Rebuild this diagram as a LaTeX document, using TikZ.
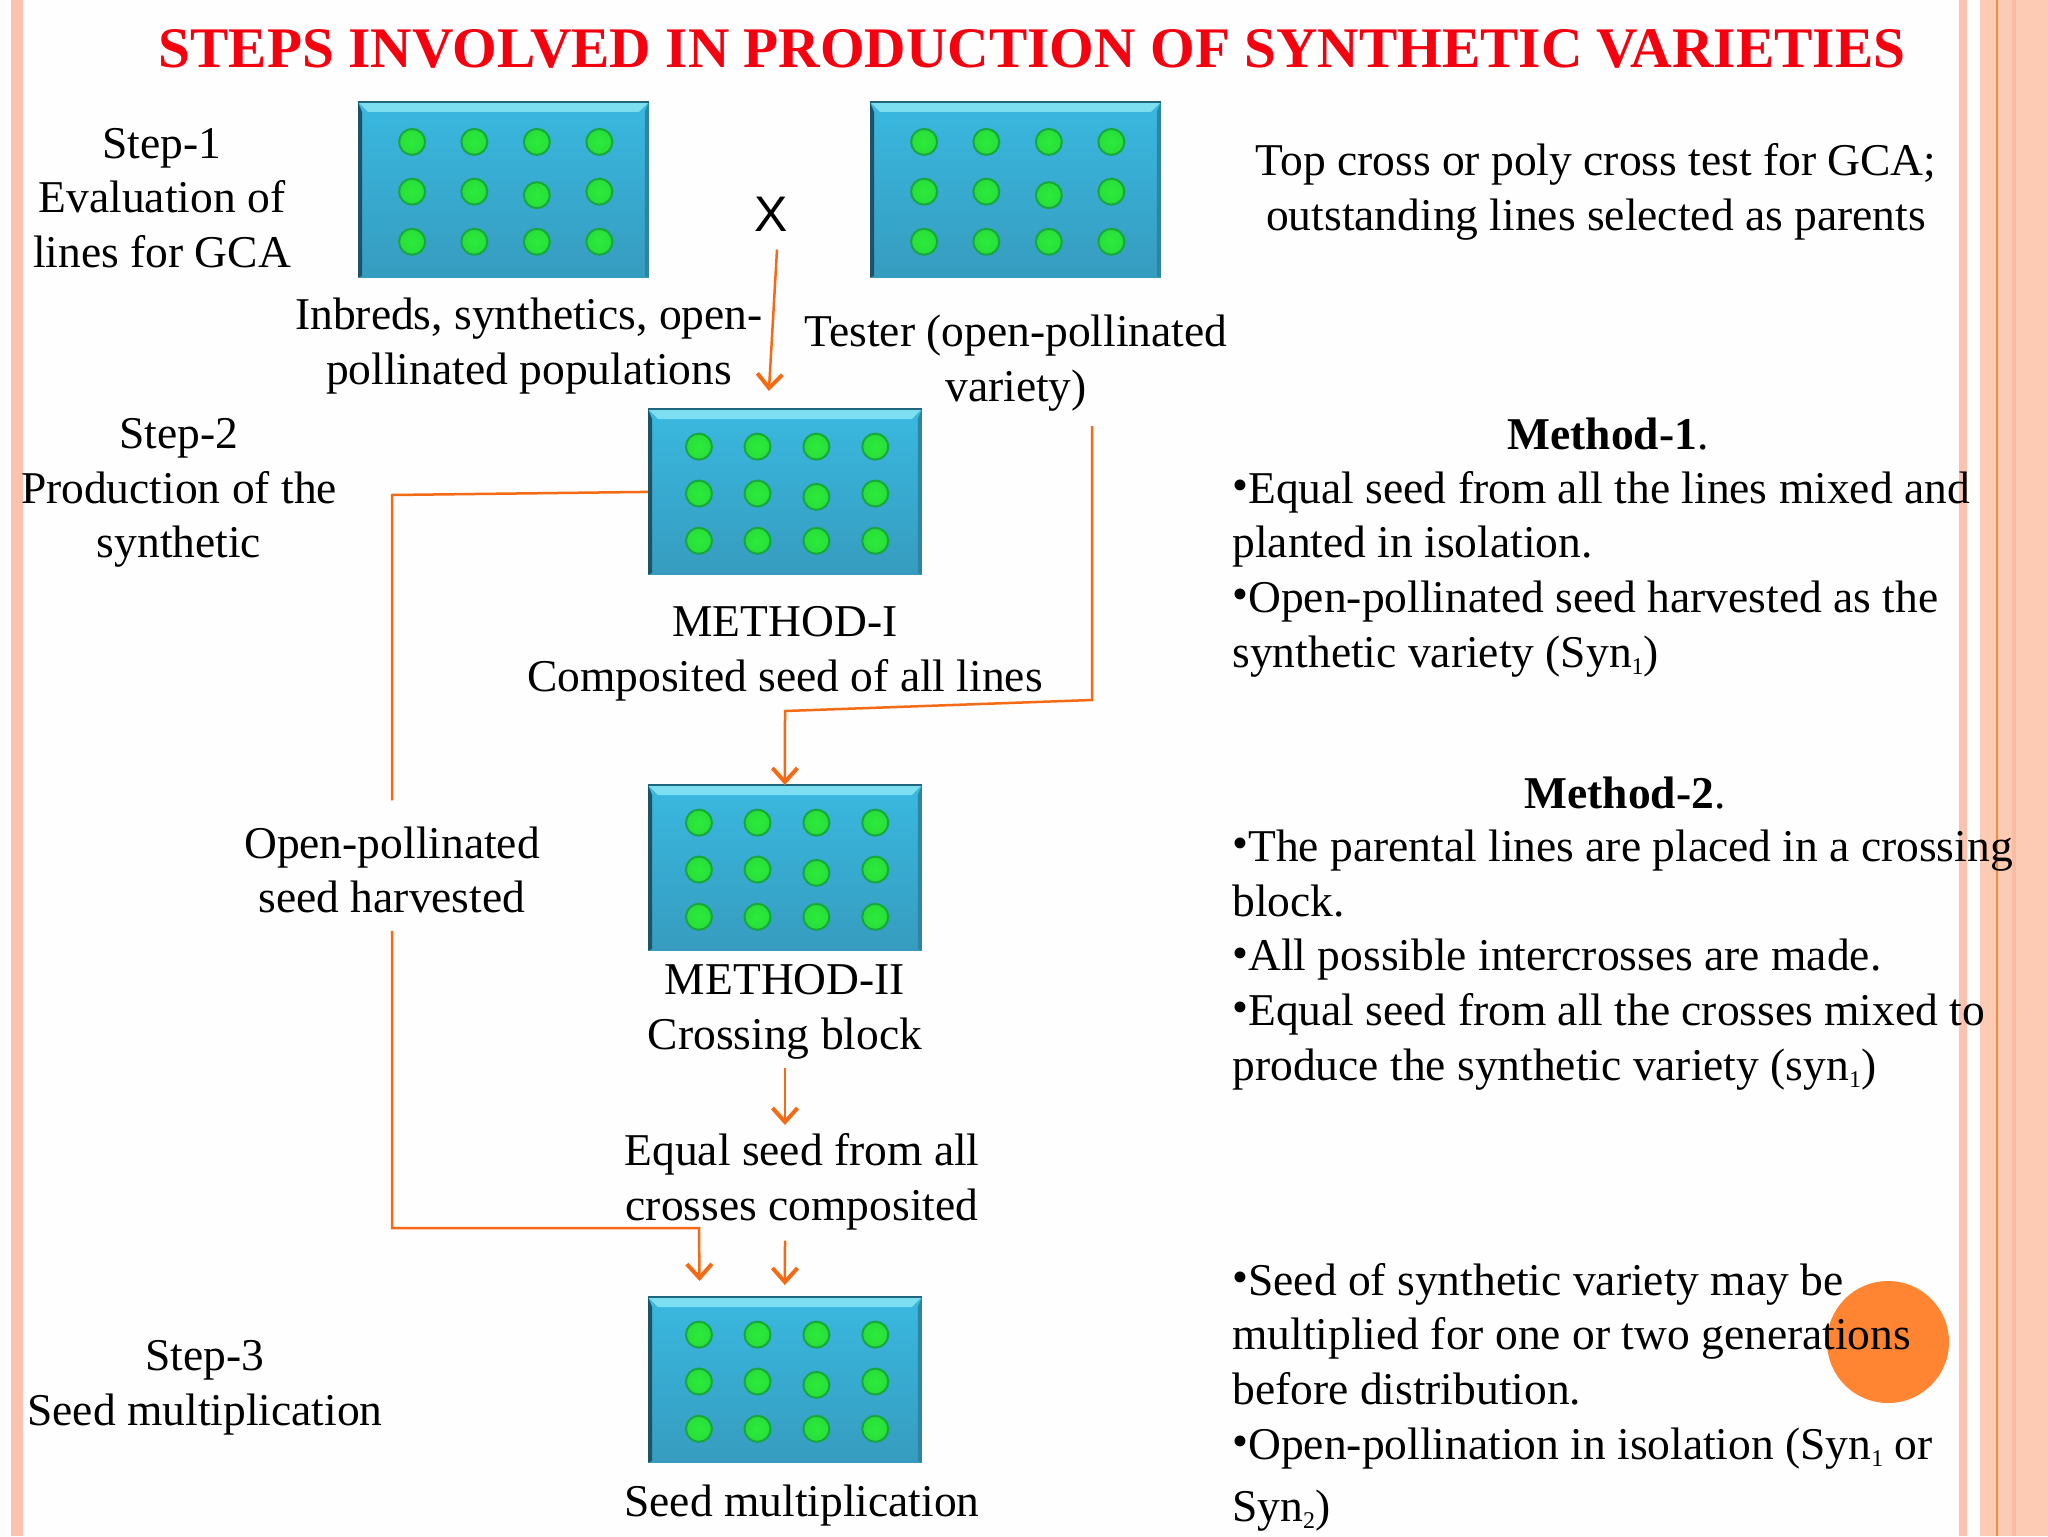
\documentclass[tikz,border=0pt]{standalone}
\usepackage{fontspec}
\setmainfont{Liberation Serif}
\newfontfamily\sansx{Liberation Sans}
\usetikzlibrary{arrows.meta,calc}
\definecolor{pinkband}{HTML}{FDCBB4}
\definecolor{pinkside}{HTML}{FBC3AE}
\definecolor{pinkdark}{HTML}{F9BBA2}
\definecolor{orangeline}{HTML}{F56A14}
\definecolor{orangedeep}{HTML}{F58A3C}
\definecolor{discorange}{HTML}{FF8533}
\definecolor{titlered}{HTML}{F5000F}
\definecolor{tiletop}{HTML}{3AB8E0}
\definecolor{tilebot}{HTML}{369CBF}
\definecolor{ballgreen}{HTML}{2CEB3A}
\definecolor{ballrim}{HTML}{16A83C}
\newcommand{\bul}{\raisebox{1.4pt}{•}}
\newcommand{\subx}[1]{\raisebox{-3.5pt}{\fontsize{12}{12}\selectfont #1}}
\tikzset{
  body/.style={font=\fontsize{22.75}{27.35}\selectfont,text=black,inner sep=0pt,align=center},
  bodyl/.style={body,align=left,anchor=west},
  headtitle/.style={font=\fontsize{28.7}{32}\selectfont\bfseries,text=titlered,inner sep=0pt},
  tile/.style={draw=none,inner sep=0pt,top color=tiletop,bottom color=tilebot,minimum width=#1},
  conn/.style={draw=orangeline,line width=1.25pt},
  connar/.style={conn,-{Straight Barb[length=7pt,width=12.5pt,line width=2pt]}},
  ball/.style={circle,inner sep=0pt,minimum size=13pt,draw=ballrim,line width=1pt,inner color=ballgreen,outer color=ballgreen!80!ballrim}
}
% name, x1, y1, x2, y2 in image pixels
\newcommand{\tileat}[5]{%
  \node[tile=0.5pt*(#4-#2),minimum height=0.5pt*(#5-#3),anchor=north west] (#1) at (#2,#3) {};
  \fill[tiletop!55!white!85!cyan] (#1.north west) -- (#1.north east) -- ([xshift=-5pt,yshift=-5pt]#1.north east) -- ([xshift=5pt,yshift=-5pt]#1.north west) -- cycle;
  \fill[black!35!tiletop!70!black] (#1.north west) -- ([xshift=2pt,yshift=-5pt]#1.north west) -- ([xshift=2pt,yshift=1pt]#1.south west) -- (#1.south west) -- cycle;
  \fill[tilebot!85!black] (#1.north east) -- ([xshift=-2pt,yshift=-5pt]#1.north east) -- ([xshift=-2pt,yshift=1pt]#1.south east) -- (#1.south east) -- cycle;
  \draw[line width=.6pt,black!45!tiletop] (#1.north west) -- (#1.north east);
  \foreach \xf/\yf/\nm in {0.186/0.227/ap,0.400/0.227/bp,0.615/0.227/cp,0.830/0.227/dp,
                           0.186/0.510/aq,0.400/0.510/bq,0.615/0.530/cq,0.830/0.510/dq,
                           0.186/0.795/ar,0.400/0.795/br,0.615/0.795/cr,0.830/0.795/dr}{
    \node[ball] (#1-\nm) at ($($(#1.north west)!\xf!(#1.north east)$)!\yf!($(#1.south west)!\xf!(#1.south east)$)$) {};
  }
}
\begin{document}
\begin{tikzpicture}[x=0.5pt,y=-0.5pt]
\useasboundingbox (0,0) rectangle (2048,1536);
\fill[white!99.5!black] (0,0) rectangle (2048,1536);
% frame bands
\fill[pinkside] (11,0) rectangle (23,1536);
\fill[pinkside] (1959,0) rectangle (1967,1536);
\fill[pinkband] (1980,0) rectangle (2048,1536);
\fill[pinkdark] (2012,0) rectangle (2016,1536);
\fill[orangedeep] (1995.5,0) rectangle (1997.5,1536);
% disc behind the text
\fill[discorange] (1888,1342) circle[radius=30.5pt];

\node[headtitle] (title) at (1032,49) {STEPS INVOLVED IN PRODUCTION OF SYNTHETIC VARIETIES};

\tileat{tileA}{358}{102}{648}{277}
\tileat{tileB}{870}{102}{1160}{277}
\tileat{tileC}{648}{409}{921}{574}
\tileat{tileD}{648}{785}{921}{950}
\tileat{tileE}{648}{1297}{921}{1462}

\node[body] (stepone) at (162,198) {Step-1\\Evaluation of\\lines for GCA};
\node[body] (inbreds) at (529,346) {Inbreds, synthetics, open-\\pollinated populations};
\node[body] (tester) at (1016,363) {Tester (open-pollinated\\variety)};
\node[font=\sansx\fontsize{25}{28}\selectfont,inner sep=0pt] (cross) at (771,214) {X};
\node[body] (topcross) at (1596,192) {Top cross or poly cross test for GCA;\\outstanding lines selected as parents};
\node[body] (steptwo) at (179,493) {Step-2\\Production of the\\synthetic};
\node[body] (mone) at (785,654) {METHOD-I\\Composited seed of all lines};
\node[body] (openpol) at (392,870) {Open-pollinated\\seed harvested};
\node[body] (mtwo) at (785,1012) {METHOD-II\\Crossing block};
\node[body] (equal) at (802,1182) {Equal seed from all\\crosses composited};
\node[body] (stepthree) at (205,1388) {Step-3\\Seed multiplication};
\node[body] (seedm) at (802,1506) {Seed multiplication};

\node[body] (headone) at (1608,434) {\textbf{Method-1}.};
\node[bodyl] (textone) at (1232,574) {\bul Equal seed from all the lines mixed and\\planted in isolation.\\\bul Open-pollinated seed harvested as the\\synthetic variety (Syn\subx{1})};
\node[body] (headtwo) at (1625,793) {\textbf{Method-2}.};
\node[bodyl] (texttwo) at (1232,960) {\bul The parental lines are placed in a crossing\\block.\\\bul All possible intercrosses are made.\\\bul Equal seed from all the crosses mixed to\\produce the synthetic variety (syn\subx{1})};
\node[bodyl] (textthree) at (1232,1397) {\bul Seed of synthetic variety may be\\multiplied for one or two generations\\before distribution.\\\bul Open-pollination in isolation (Syn\subx{1} or\\[3.5pt]Syn\subx{2})};

% connectors
\draw[connar] ([xshift=3pt,yshift=-9pt]cross.south) -- ([xshift=-8pt,yshift=9pt]tileC.north);
\draw[conn] (tileC.west) -- (392,495) -- ([yshift=13pt]openpol.north);
\draw[connar] ([yshift=-8.5pt]openpol.south) -- (392,1228) -- (699,1228) -- ([xshift=-42.7pt,yshift=8pt]tileE.north);
\draw[connar] (1092,426) -- (1092,700) -- (785,711) -- (tileD.north);
\draw[connar] (785,1068) -- (785,1125);
\draw[connar] ([xshift=-8.5pt,yshift=-5pt]equal.south) -- ([yshift=6pt]tileE.north);
\end{tikzpicture}
\end{document}
